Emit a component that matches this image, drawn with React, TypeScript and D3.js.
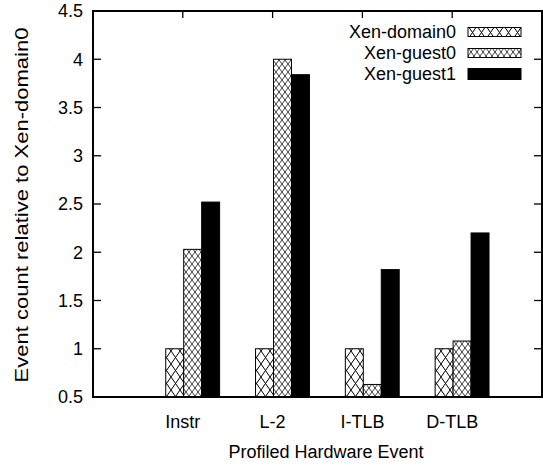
import { useEffect, useRef } from "react";
import * as d3 from "d3";

const categories = ["Instr", "L-2", "I-TLB", "D-TLB"];
const seriesNames = ["Xen-domain0", "Xen-guest0", "Xen-guest1"];
const domain0 = [1.0, 1.0, 1.0, 1.0];
const guest0 = [2.03, 4.0, 0.63, 1.08];
const guest1 = [2.52, 3.84, 1.82, 2.2];
const yTicks = [0.5, 1, 1.5, 2, 2.5, 3, 3.5, 4, 4.5];

const fills = ["url(#hatchBig)", "url(#hatchFine)", "#000"];

export default function App() {
  const ref = useRef<SVGSVGElement>(null);
  const width = 543;
  const height = 465;
  const marginLeft = 93;
  const marginRight = 1;
  const marginTop = 11;
  const marginBottom = 68;
  const font = "'Liberation Sans', Arial, Helvetica, sans-serif";

  useEffect(() => {
    const svg = d3.select(ref.current);
    svg.selectAll("*").remove();

    const x = d3
      .scaleLinear()
      .domain([-1, 4])
      .range([marginLeft, width - marginRight]);
    const y = d3
      .scaleLinear()
      .domain([0.5, 4.5])
      .range([height - marginBottom, marginTop]);

    const defs = svg.append("defs");
    const big = defs
      .append("pattern")
      .attr("id", "hatchBig")
      .attr("patternUnits", "userSpaceOnUse")
      .attr("width", 9)
      .attr("height", 13);
    big.append("rect").attr("width", 9).attr("height", 13).attr("fill", "#fff");
    big
      .append("path")
      .attr("d", "M0,0L9,13M9,0L0,13")
      .attr("stroke", "#000")
      .attr("stroke-width", 1);

    const fine = defs
      .append("pattern")
      .attr("id", "hatchFine")
      .attr("patternUnits", "userSpaceOnUse")
      .attr("width", 6)
      .attr("height", 8);
    fine.append("rect").attr("width", 6).attr("height", 8).attr("fill", "#fff");
    fine
      .append("path")
      .attr("d", "M0,0L6,8M6,0L0,8")
      .attr("stroke", "#000")
      .attr("stroke-width", 0.75);

    const series = [domain0, guest0, guest1];
    const barW = 0.2;

    series.forEach((vals, i) => {
      svg
        .append("g")
        .selectAll("rect")
        .data(vals)
        .join("rect")
        .attr("x", (_, k) => x(k + (i - 1) * barW + 0.01))
        .attr("y", (d) => y(d))
        .attr("width", x(barW) - x(0))
        .attr("height", (d) => y(0.5) - y(d))
        .attr("fill", fills[i])
        .attr("stroke", "#000")
        .attr("stroke-width", 1);
    });

    // frame
    svg
      .append("rect")
      .attr("x", marginLeft)
      .attr("y", marginTop)
      .attr("width", width - marginRight - marginLeft)
      .attr("height", height - marginBottom - marginTop)
      .attr("fill", "none")
      .attr("stroke", "#000")
      .attr("stroke-width", 2);

    // y ticks (left and right, inward)
    const yt = svg.append("g");
    yTicks.forEach((t) => {
      yt.append("line")
        .attr("x1", marginLeft)
        .attr("x2", marginLeft + 8)
        .attr("y1", y(t))
        .attr("y2", y(t))
        .attr("stroke", "#000")
        .attr("stroke-width", 1.3);
      yt.append("line")
        .attr("x1", width - marginRight)
        .attr("x2", width - marginRight - 8)
        .attr("y1", y(t))
        .attr("y2", y(t))
        .attr("stroke", "#000")
        .attr("stroke-width", 1.3);
      yt.append("text")
        .attr("x", 83)
        .attr("y", y(t))
        .attr("dy", "0.36em")
        .attr("text-anchor", "end")
        .attr("font-family", font)
        .attr("font-size", 18)
        .text(String(t));
    });

    // x ticks on top border
    categories.forEach((c, k) => {
      svg
        .append("line")
        .attr("x1", x(k))
        .attr("x2", x(k))
        .attr("y1", marginTop)
        .attr("y2", marginTop + 7)
        .attr("stroke", "#000")
        .attr("stroke-width", 1.3);
      svg
        .append("text")
        .attr("x", x(k))
        .attr("y", 428)
        .attr("text-anchor", "middle")
        .attr("font-family", font)
        .attr("font-size", 18)
        .text(c);
    });

    svg
      .append("text")
      .attr("x", (marginLeft + width) / 2 + 8)
      .attr("y", 458)
      .attr("text-anchor", "middle")
      .attr("font-family", font)
      .attr("font-size", 18)
      .text("Profiled Hardware Event");

    svg
      .append("text")
      .attr("transform", `translate(28, 205) rotate(-90)`)
      .attr("text-anchor", "middle")
      .attr("font-family", font)
      .attr("font-size", 18)
      .attr("textLength", 355)
      .attr("lengthAdjust", "spacingAndGlyphs")
      .text("Event count relative to Xen-domain0");

    // legend
    const legend = svg.append("g");
    seriesNames.forEach((name, i) => {
      const ly = 32 + i * 21;
      const bh = i === 2 ? 11 : 9;
      legend
        .append("text")
        .attr("x", 456)
        .attr("y", ly)
        .attr("dy", "0.36em")
        .attr("text-anchor", "end")
        .attr("font-family", font)
        .attr("font-size", 18)
        .text(name);
      legend
        .append("rect")
        .attr("x", 468)
        .attr("y", ly - bh / 2)
        .attr("width", 53)
        .attr("height", bh)
        .attr("fill", fills[i])
        .attr("stroke", "#000")
        .attr("stroke-width", 1);
    });
  }, []);

  return (
    <svg
      ref={ref}
      width={width}
      height={height}
      style={{ position: "absolute", left: 0, top: 0, background: "#fff" }}
    />
  );
}
